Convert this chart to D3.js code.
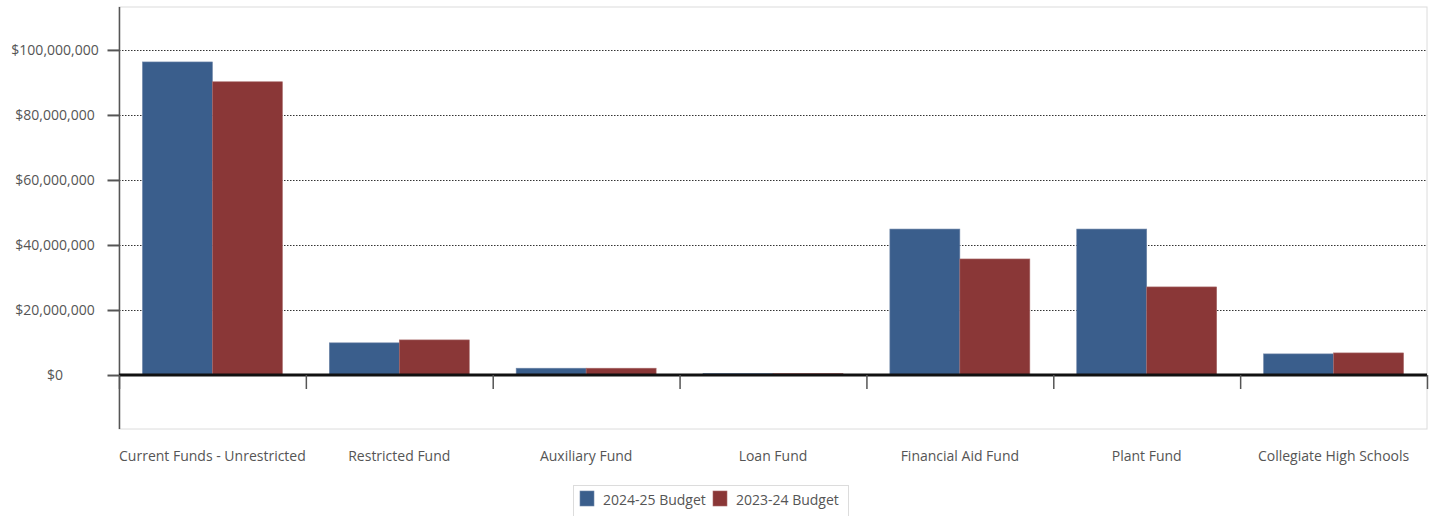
<!DOCTYPE html>
<html><head><meta charset="utf-8">
<script src="https://cdn.jsdelivr.net/npm/d3@7"></script>
<style>
body{margin:0;background:#fff;}
text{font-family:"Open Sans","Segoe UI",sans-serif;}
</style></head>
<body>
<svg id="c" width="1432" height="516"></svg>
<script>
const categories = ["Current Funds - Unrestricted","Restricted Fund","Auxiliary Fund","Loan Fund","Financial Aid Fund","Plant Fund","Collegiate High Schools"];
const seriesNames = ["2024-25 Budget","2023-24 Budget"];
const budget2425 = [96300000, 9900000, 2100000, 500000, 44900000, 44900000, 6500000];
const budget2324 = [90200000, 10800000, 2100000, 500000, 35700000, 27100000, 6800000];
const yTicks = [0, 20000000, 40000000, 60000000, 80000000, 100000000];
const colors = ["#3a5e8c", "#8a3737"];

(function(){
const svg = d3.select("#c");
const pL = 119, pR = 1427, pT = 7, pB = 429;
const fs = "14px";

const x = d3.scaleBand().domain(categories).range([pL, pR]).paddingInner(0).paddingOuter(0);
const y = d3.scaleLinear().domain([-16600000, 113200000]).range([pB, pT]);
const xs = d3.scaleBand().domain(seriesNames).range([0, x.bandwidth()]).paddingInner(0).paddingOuter(0.335);

svg.append("rect").attr("x", pL).attr("y", pT).attr("width", pR-pL).attr("height", pB-pT)
  .attr("fill","none").attr("stroke","#dcdcdc").attr("stroke-width",1);

svg.append("g").selectAll("line").data(yTicks.filter(d=>d!==0)).join("line")
  .attr("x1", pL).attr("x2", pR).attr("y1", d=>Math.round(y(d))+0.5).attr("y2", d=>Math.round(y(d))+0.5)
  .attr("stroke","#333").attr("stroke-width",1).attr("stroke-dasharray","1.5,1.5");

const yAxis = d3.axisLeft(y).tickValues(yTicks).tickSize(12).tickPadding(10)
  .tickFormat(d => "$" + d3.format(",")(d));
const ga = svg.append("g").attr("transform",`translate(${pL+0.5},0)`).call(yAxis);
ga.select(".domain").remove();
ga.selectAll(".tick line").attr("stroke","#555").attr("stroke-width",2);
ga.selectAll(".tick text").attr("fill","#555").style("font-size",fs)
  .attr("text-anchor","middle").attr("x",-64.5);
svg.append("line").attr("x1",pL+0.5).attr("x2",pL+0.5).attr("y1",pT).attr("y2",pB)
  .attr("stroke","#555").attr("stroke-width",1.5);

const data = categories.map((c,i)=>({c, vals:[budget2425[i], budget2324[i]]}));
const g = svg.append("g");
data.forEach(d=>{
  d.vals.forEach((v,j)=>{
    g.append("rect")
      .attr("x", x(d.c)+xs(seriesNames[j]))
      .attr("y", y(v))
      .attr("width", xs.bandwidth())
      .attr("height", y(0)-y(v))
      .attr("fill", colors[j])
      .attr("stroke", j===0 ? "#6f86a8" : "#a86a6a").attr("stroke-width",0.6);
  });
});

svg.append("line").attr("x1",pL).attr("x2",pR).attr("y1",y(0)).attr("y2",y(0))
  .attr("stroke","#111").attr("stroke-width",3);
const bounds = categories.map(c=>x(c)).concat([pR]);
svg.append("g").selectAll("line").data(bounds).join("line")
  .attr("x1",d=>d+0.5).attr("x2",d=>d+0.5).attr("y1",y(0)).attr("y2",y(0)+14)
  .attr("stroke","#555").attr("stroke-width",1.5);

svg.append("g").selectAll("text").data(categories).join("text")
  .attr("x", d=>x(d)+x.bandwidth()/2).attr("y", 461)
  .attr("text-anchor","middle").attr("fill","#555").style("font-size",fs).text(d=>d);

const lg = svg.append("g");
lg.append("rect").attr("x",573.5).attr("y",485.5).attr("width",275).attr("height",40)
  .attr("fill","#fff").attr("stroke","#dcdcdc");
const legX = [580, 713];
seriesNames.forEach((n,i)=>{
  lg.append("rect").attr("x",legX[i]).attr("y",491).attr("width",14).attr("height",15)
    .attr("fill",colors[i]).attr("stroke", i===0?"#6f86a8":"#a86a6a").attr("stroke-width",0.6);
  lg.append("text").attr("x",legX[i]+23).attr("y",505).attr("fill","#555").style("font-size",fs).text(n);
});
})();
</script>
</body></html>
